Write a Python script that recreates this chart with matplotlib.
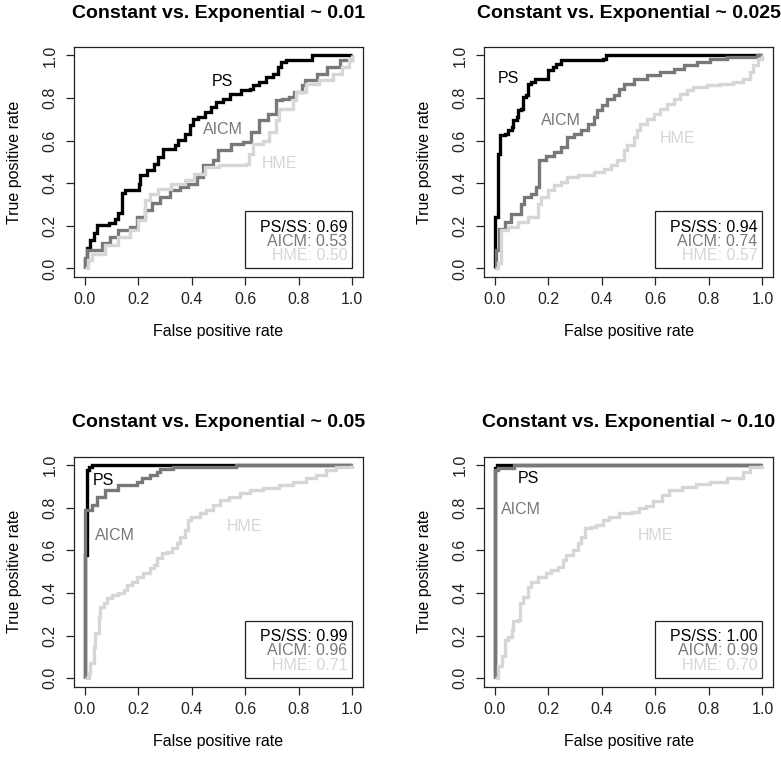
import matplotlib
matplotlib.use("Agg")
import matplotlib.pyplot as plt
from matplotlib.patches import Rectangle

plt.rcParams['font.family'] = ['Liberation Sans', 'DejaVu Sans']

titles = ["Constant vs. Exponential ~ 0.01", "Constant vs. Exponential ~ 0.025",
          "Constant vs. Exponential ~ 0.05", "Constant vs. Exponential ~ 0.10"]
tick_vals = [0.0, 0.2, 0.4, 0.6, 0.8, 1.0]
tick_labels = ["0.0", "0.2", "0.4", "0.6", "0.8", "1.0"]
methods = ["PS", "AICM", "HME"]
legend_names = ["PS/SS", "AICM", "HME"]
auc_values = [[0.69, 0.53, 0.50], [0.94, 0.74, 0.57], [0.99, 0.96, 0.71], [1.00, 0.99, 0.70]]

# ---- Panel 1 (~0.01) ----
ps1_fpr = [0, 0, 0.009, 0.021, 0.033, 0.046, 0.089, 0.114, 0.126, 0.139, 0.151, 0.201, 0.207, 0.232, 0.257,
           0.275, 0.294, 0.337, 0.349, 0.374, 0.393, 0.405, 0.424, 0.449, 0.473, 0.492, 0.517, 0.542, 0.585,
           0.616, 0.628, 0.653, 0.678, 0.703, 0.721, 0.734, 0.752, 0.851, 1.0]
ps1_tpr = [0, 0.039, 0.094, 0.133, 0.164, 0.203, 0.211, 0.234, 0.258, 0.352, 0.367, 0.398, 0.4375, 0.461, 0.492,
           0.523, 0.5625, 0.578, 0.602, 0.633, 0.672, 0.703, 0.711, 0.734, 0.758, 0.781, 0.797, 0.817, 0.836,
           0.844, 0.859, 0.875, 0.898, 0.914, 0.945, 0.969, 0.980, 1.0, 1.0]
aicm1_fpr = [0, 0, 0.009, 0.046, 0.064, 0.095, 0.126, 0.170, 0.195, 0.226, 0.250, 0.281, 0.318, 0.356, 0.387,
             0.418, 0.442, 0.480, 0.498, 0.548, 0.591, 0.622, 0.653, 0.684, 0.715, 0.739, 0.764, 0.782, 0.813,
             0.825, 0.869, 0.906, 0.955, 1.0]
aicm1_tpr = [0, 0.05, 0.086, 0.086, 0.117, 0.148, 0.180, 0.195, 0.242, 0.273, 0.305, 0.336, 0.367, 0.383, 0.398,
             0.430, 0.484, 0.508, 0.555, 0.586, 0.594, 0.641, 0.695, 0.727, 0.789, 0.796, 0.804, 0.828, 0.859,
             0.883, 0.914, 0.945, 0.977, 1.0]
hme1_fpr = [0, 0.014, 0.026, 0.076, 0.125, 0.170, 0.200, 0.224, 0.243, 0.274, 0.324, 0.373, 0.410, 0.448, 0.500,
            0.603, 0.615, 0.630, 0.665, 0.690, 0.715, 0.727, 0.777, 0.789, 0.826, 0.876, 0.926, 0.963, 0.988, 1.0]
hme1_tpr = [0, 0.038, 0.069, 0.108, 0.147, 0.180, 0.225, 0.319, 0.350, 0.374, 0.397, 0.413, 0.444, 0.476, 0.484,
            0.492, 0.539, 0.586, 0.600, 0.640, 0.695, 0.750, 0.789, 0.828, 0.867, 0.883, 0.914, 0.945, 0.977, 1.0]

# ---- Panel 2 (~0.025) ----
ps2_fpr = [0, 0, 0, 0.012, 0.012, 0.019, 0.037, 0.050, 0.062, 0.068, 0.081, 0.087, 0.099, 0.105, 0.118, 0.124,
           0.136, 0.149, 0.192, 0.198, 0.217, 0.229, 0.248, 0.403, 0.415, 1.0]
ps2_tpr = [0, 0.086, 0.242, 0.242, 0.539, 0.625, 0.633, 0.648, 0.664, 0.695, 0.711, 0.742, 0.750, 0.805, 0.8125,
           0.867, 0.875, 0.891, 0.891, 0.930, 0.945, 0.961, 0.977, 0.984, 1.0, 1.0]
aicm2_fpr = [0, 0.005, 0.017, 0.036, 0.061, 0.098, 0.110, 0.135, 0.154, 0.166, 0.191, 0.222, 0.247, 0.271, 0.296,
             0.321, 0.346, 0.371, 0.383, 0.401, 0.420, 0.445, 0.463, 0.482, 0.519, 0.569, 0.618, 0.668, 0.705,
             0.755, 0.804, 0.866, 0.978, 1.0]
aicm2_tpr = [0, 0.085, 0.186, 0.217, 0.256, 0.303, 0.335, 0.350, 0.382, 0.507, 0.530, 0.546, 0.569, 0.616, 0.632,
             0.648, 0.679, 0.710, 0.742, 0.765, 0.796, 0.812, 0.843, 0.867, 0.890, 0.906, 0.922, 0.937, 0.953,
             0.969, 0.984, 0.992, 1.0, 1.0]
hme2_fpr = [0, 0.005, 0.011, 0.023, 0.048, 0.086, 0.123, 0.160, 0.172, 0.197, 0.222, 0.247, 0.271, 0.309, 0.371,
            0.408, 0.433, 0.457, 0.482, 0.494, 0.519, 0.532, 0.544, 0.569, 0.594, 0.618, 0.643, 0.668, 0.693,
            0.717, 0.742, 0.792, 0.842, 0.891, 0.929, 0.953, 0.965, 0.984, 1.0]
hme2_tpr = [0, 0.0, 0.025, 0.178, 0.194, 0.217, 0.241, 0.303, 0.335, 0.366, 0.390, 0.405, 0.429, 0.437, 0.452,
            0.468, 0.484, 0.507, 0.554, 0.578, 0.616, 0.648, 0.679, 0.702, 0.726, 0.749, 0.773, 0.796, 0.820,
            0.836, 0.851, 0.859, 0.867, 0.875, 0.890, 0.922, 0.953, 0.984, 1.0]

# ---- Panel 3 (~0.05) ----
ps3_fpr = [0, 0, 0.007, 0.007, 0.015, 0.026, 1.0]
ps3_tpr = [0, 0.58, 0.58, 0.977, 0.99, 1.0, 1.0]
aicm3_fpr = [0, 0, 0.027, 0.046, 0.077, 0.126, 0.195, 0.213, 0.244, 0.269, 0.281, 0.331, 0.566, 1.0]
aicm3_tpr = [0, 0.789, 0.8125, 0.852, 0.883, 0.906, 0.922, 0.9375, 0.953, 0.969, 0.984, 0.992, 1.0, 1.0]
hme3_fpr = [0, 0.008, 0.015, 0.021, 0.033, 0.040, 0.052, 0.058, 0.071, 0.083, 0.102, 0.126, 0.145, 0.157, 0.176,
            0.195, 0.219, 0.244, 0.257, 0.269, 0.287, 0.306, 0.325, 0.343, 0.356, 0.374, 0.387, 0.399, 0.430,
            0.455, 0.480, 0.504, 0.541, 0.579, 0.616, 0.665, 0.727, 0.777, 0.826, 0.864, 0.901, 0.938, 1.0]
hme3_tpr = [0, 0.0, 0.023, 0.070, 0.148, 0.211, 0.289, 0.336, 0.352, 0.375, 0.390, 0.398, 0.414, 0.4375, 0.453,
            0.477, 0.492, 0.516, 0.531, 0.5625, 0.586, 0.594, 0.609, 0.633, 0.664, 0.695, 0.742, 0.758, 0.773,
            0.789, 0.8125, 0.836, 0.852, 0.867, 0.883, 0.891, 0.906, 0.922, 0.9375, 0.953, 0.977, 0.992, 1.0]

# ---- Panel 4 (~0.10) ----
ps4_fpr = [0, 0, 0.006, 1.0]
ps4_tpr = [0, 0.985, 1.0, 1.0]
aicm4_fpr = [0, 0, 0.012, 0.070, 1.0]
aicm4_tpr = [0, 0.975, 0.985, 1.0, 1.0]
hme4_fpr = [0, 0.006, 0.012, 0.025, 0.037, 0.050, 0.062, 0.068, 0.087, 0.093, 0.105, 0.124, 0.136, 0.161, 0.192,
            0.211, 0.235, 0.254, 0.266, 0.291, 0.310, 0.322, 0.335, 0.359, 0.378, 0.403, 0.428, 0.465, 0.514,
            0.539, 0.564, 0.589, 0.626, 0.651, 0.700, 0.750, 0.805, 0.867, 0.929, 0.953, 1.0]
hme4_tpr = [0, 0.0, 0.055, 0.102, 0.180, 0.195, 0.227, 0.266, 0.273, 0.352, 0.383, 0.430, 0.453, 0.477, 0.492,
            0.508, 0.523, 0.555, 0.578, 0.602, 0.633, 0.664, 0.703, 0.711, 0.719, 0.742, 0.758, 0.773, 0.781,
            0.797, 0.808, 0.830, 0.860, 0.883, 0.899, 0.910, 0.922, 0.938, 0.969, 0.990, 1.0]

curves = [
    [(ps1_fpr, ps1_tpr), (aicm1_fpr, aicm1_tpr), (hme1_fpr, hme1_tpr)],
    [(ps2_fpr, ps2_tpr), (aicm2_fpr, aicm2_tpr), (hme2_fpr, hme2_tpr)],
    [(ps3_fpr, ps3_tpr), (aicm3_fpr, aicm3_tpr), (hme3_fpr, hme3_tpr)],
    [(ps4_fpr, ps4_tpr), (aicm4_fpr, aicm4_tpr), (hme4_fpr, hme4_tpr)],
]

label_pos = [
    [(0.516, 0.876), (0.516, 0.65), (0.728, 0.493)],
    [(0.05, 0.892), (0.248, 0.696), (0.681, 0.61)],
    [(0.071, 0.93), (0.114, 0.672), (0.597, 0.711)],
    [(0.124, 0.935), (0.099, 0.793), (0.601, 0.672)],
]

colors = ["#000000", "#787878", "#d6d6d6"]

fig = plt.figure(figsize=(7.81, 7.65), dpi=100)
positions = [[0.0948, 0.638, 0.370, 0.3007], [0.620, 0.638, 0.370, 0.3007],
             [0.0948, 0.1024, 0.370, 0.3007], [0.620, 0.1024, 0.370, 0.3007]]

fs = 11.5
for i in range(4):
    ax = fig.add_axes(positions[i])
    ax.set_xlim(-0.04, 1.04)
    ax.set_ylim(-0.04, 1.04)
    for (fx, ty), col in zip(curves[i], colors):
        ax.plot(fx, ty, color=col, lw=2.4, drawstyle='steps-post',
                solid_joinstyle='miter', solid_capstyle='butt')
    for (lx, ly), name, col in zip(label_pos[i], methods, colors):
        ax.text(lx, ly, name, color=col, fontsize=fs, ha='center', va='center')
    # legend box
    ax.add_patch(Rectangle((0.6, 0.0), 0.40, 0.268, fill=False, edgecolor='#222222', lw=0.9, zorder=5))
    row_y = [0.194, 0.128, 0.061]
    for ry, nm, v, col in zip(row_y, legend_names, auc_values[i], colors):
        ax.text(0.982, ry, f"{nm}: {v:.2f}", color=col, fontsize=fs, ha='right', va='center', zorder=6)
    ax.set_xticks(tick_vals)
    ax.set_xticklabels(tick_labels)
    ax.set_yticks(tick_vals)
    ax.set_yticklabels(tick_labels, rotation=90, va='center')
    ax.tick_params(direction='out', length=6, width=0.9, labelsize=fs, colors='#222222', pad=5)
    ax.tick_params(axis='y', pad=6)
    for sp in ax.spines.values():
        sp.set_color('#222222')
        sp.set_linewidth(0.9)
    ax.set_xlabel("False positive rate", fontsize=fs, labelpad=12)
    ax.set_ylabel("True positive rate", fontsize=fs, labelpad=15)
    ax.set_title(titles[i], fontsize=14, fontweight='bold', pad=21)

fig.savefig("out.png", dpi=100)
